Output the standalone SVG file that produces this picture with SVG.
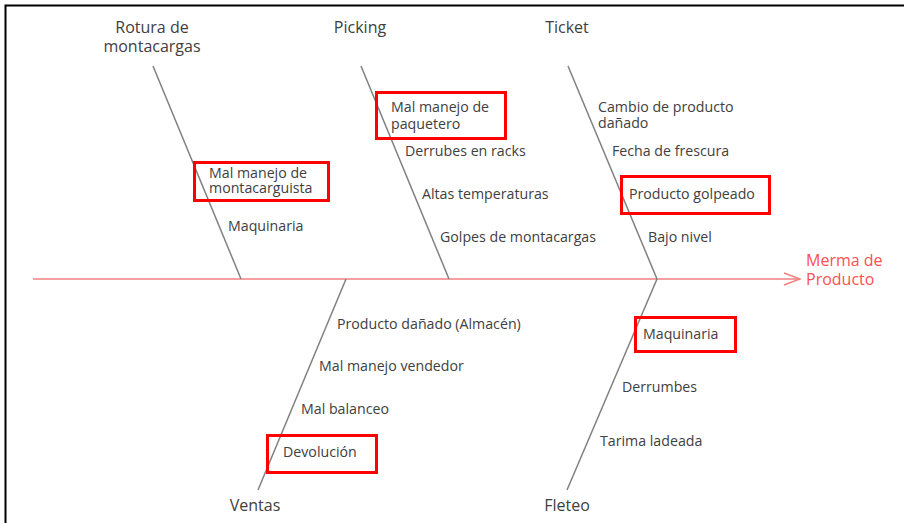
<svg xmlns="http://www.w3.org/2000/svg" width="904" height="523" viewBox="0 0 904 523">
<defs>
<style>
.t{font-family:"Open Sans","Noto Sans",sans-serif;font-size:14.2px;fill:#404040}
.h{font-family:"Open Sans","Noto Sans",sans-serif;font-size:16px;fill:#404040}
.e{font-family:"Open Sans","Noto Sans",sans-serif;font-size:16px;fill:#ff5050}
.bone{stroke:#808080;stroke-width:1.5;fill:none}
.box{stroke:#ff0000;stroke-width:3;fill:none}
</style>
<marker id="arr" markerWidth="20" markerHeight="14" refX="18" refY="7" orient="auto" markerUnits="userSpaceOnUse">
<path d="M2,1 L18,7 L2,13" fill="none" stroke="#f08080" stroke-width="1.5"/>
</marker>
</defs>
<rect width="904" height="523" fill="#fff"/>
<path d="M5.5,523 V5.5 H904" fill="none" stroke="#000" stroke-width="2"/>
<g id="connectors">
<line x1="33" y1="279" x2="800" y2="279" stroke="#f08080" stroke-width="1.5" marker-end="url(#arr)"/>
<line class="bone" x1="153" y1="66" x2="241" y2="279"/>
<line class="bone" x1="361" y1="66" x2="449" y2="279"/>
<line class="bone" x1="568" y1="66" x2="657" y2="279"/>
<line class="bone" x1="346" y1="279" x2="258" y2="490"/>
<line class="bone" x1="657" y1="279" x2="567" y2="490"/>
</g>
<g id="effect"><text class="e" x="806" y="266">Merma de<tspan x="806" y="285">Producto</tspan></text></g>
<g id="rotura">
<text class="h" x="152" y="33" text-anchor="middle">Rotura de<tspan x="152" y="52">montacargas</tspan></text>
<rect class="box" x="194.5" y="162.5" width="134" height="38"/>
<text class="t" x="209" y="178">Mal manejo de<tspan x="209" y="193">montacarguista</tspan></text>
<text class="t" x="228" y="231">Maquinaria</text>
</g>
<g id="picking">
<text class="h" x="360" y="33" text-anchor="middle">Picking</text>
<rect class="box" x="376.5" y="92.5" width="129" height="46"/>
<text class="t" x="391" y="112">Mal manejo de<tspan x="391" y="129">paquetero</tspan></text>
<text class="t" x="405" y="156">Derrubes en racks</text>
<text class="t" x="422" y="199">Altas temperaturas</text>
<text class="t" x="440" y="242">Golpes de montacargas</text>
</g>
<g id="ticket">
<text class="h" x="567" y="33" text-anchor="middle">Ticket</text>
<text class="t" x="598" y="112">Cambio de producto<tspan x="598" y="128">dañado</tspan></text>
<text class="t" x="612" y="156">Fecha de frescura</text>
<rect class="box" x="621.5" y="176.5" width="148" height="37"/>
<text class="t" x="629" y="199">Producto golpeado</text>
<text class="t" x="648" y="242">Bajo nivel</text>
</g>
<g id="ventas">
<text class="h" x="255" y="511" text-anchor="middle">Ventas</text>
<text class="t" x="337" y="329">Producto dañado (Almacén)</text>
<text class="t" x="319" y="371">Mal manejo vendedor</text>
<text class="t" x="301" y="414">Mal balanceo</text>
<rect class="box" x="267.5" y="435.5" width="109" height="37"/>
<text class="t" x="283" y="457">Devolución</text>
</g>
<g id="fleteo">
<text class="h" x="567" y="511" text-anchor="middle">Fleteo</text>
<rect class="box" x="635.5" y="317.5" width="100" height="34"/>
<text class="t" x="643" y="339">Maquinaria</text>
<text class="t" x="622" y="392">Derrumbes</text>
<text class="t" x="600" y="446">Tarima ladeada</text>
</g>
</svg>
